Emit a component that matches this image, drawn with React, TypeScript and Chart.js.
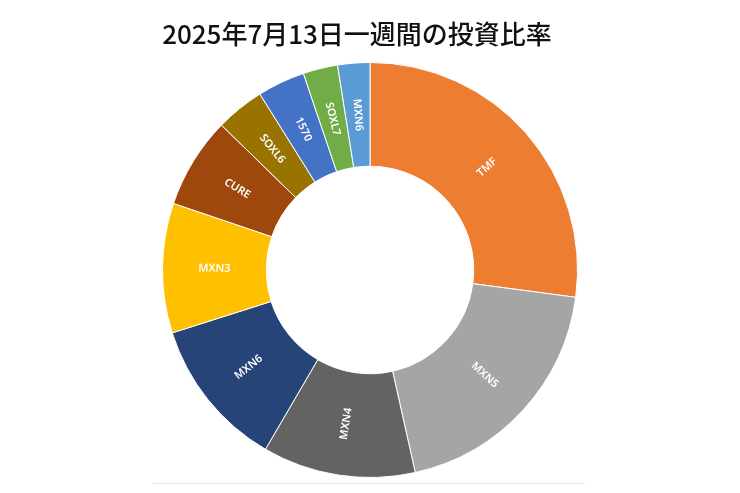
import React, { useEffect, useRef } from 'react';
import { Chart, registerables } from 'chart.js';
Chart.register(...registerables);

const TITLE = '2025年7月13日一週間の投資比率';
const labels = ['TMF', 'MXN5', 'MXN4', 'MXN6', 'MXN3', 'CURE', 'SOXL6', '1570', 'SOXL7', 'MXN6'];
const shares = [27.1, 19.4, 11.9, 11.7, 10.1, 7.1, 3.8, 3.7, 2.7, 2.5];
const colors = [
  '#ED7D31', '#A5A5A5', '#636363', '#264478', '#FFC000',
  '#9E480E', '#997300', '#4472C4', '#70AD47', '#5B9BD5',
];

// rotated slice names, radial like the office chart does it
const sliceLabels = {
  id: 'sliceLabels',
  afterDatasetsDraw(chart: any) {
    const { ctx } = chart;
    const meta = chart.getDatasetMeta(0);
    ctx.save();
    ctx.fillStyle = '#ffffff';
    ctx.font = '600 11px "Noto Sans", sans-serif';
    ctx.textAlign = 'center';
    ctx.textBaseline = 'middle';
    meta.data.forEach((arc: any, i: number) => {
      const p = arc.getProps(['x', 'y', 'startAngle', 'endAngle', 'innerRadius', 'outerRadius'], true);
      const mid = (p.startAngle + p.endAngle) / 2;
      const r = (p.innerRadius + p.outerRadius) / 2;
      const x = p.x + Math.cos(mid) * r;
      const y = p.y + Math.sin(mid) * r;
      let rot = mid;
      while (rot > Math.PI / 2) rot -= Math.PI;
      while (rot <= -Math.PI / 2) rot += Math.PI;
      ctx.save();
      ctx.translate(x, y);
      ctx.rotate(rot);
      ctx.fillText(labels[i], 0, 0);
      ctx.restore();
    });
    ctx.restore();
  },
};

// faint frame line under the chart
const baseLine = {
  id: 'baseLine',
  afterDraw(chart: any) {
    const { ctx } = chart;
    ctx.save();
    ctx.strokeStyle = '#e6e6e6';
    ctx.lineWidth = 1;
    ctx.beginPath();
    ctx.moveTo(153, 483.5);
    ctx.lineTo(585, 483.5);
    ctx.stroke();
    ctx.restore();
  },
};

const App = () => {
  const chartRef = useRef<HTMLCanvasElement>(null);

  useEffect(() => {
    const ctx = (chartRef.current as HTMLCanvasElement).getContext('2d');
    const chart = new Chart(ctx as CanvasRenderingContext2D, {
      type: 'doughnut',
      data: {
        labels: labels,
        datasets: [
          {
            data: shares,
            backgroundColor: colors,
            borderColor: '#ffffff',
            borderWidth: 1,
          },
        ],
      },
      options: {
        responsive: false,
        animation: false,
        cutout: '50%',
        layout: { padding: { top: 62, bottom: 15 } },
        plugins: {
          legend: { display: false },
          tooltip: { enabled: false },
          title: { display: false },
        },
      },
      plugins: [sliceLabels, baseLine],
    });

    return () => {
      chart.destroy();
    };
  }, []);

  return (
    <div style={{ position: 'absolute', left: 0, top: 0, width: 740, height: 493, background: '#fff' }}>
      <canvas ref={chartRef} width={740} height={493} style={{ width: 740, height: 493 }}></canvas>
      <div
        style={{
          position: 'absolute',
          left: 0,
          top: 17,
          width: 714,
          textAlign: 'center',
          fontFamily: '"Noto Sans CJK JP", "Noto Sans", sans-serif',
          fontSize: 26,
          fontWeight: 500,
          lineHeight: '32px',
          color: '#111111',
        }}
      >
        {TITLE}
      </div>
    </div>
  );
};

export default App;
